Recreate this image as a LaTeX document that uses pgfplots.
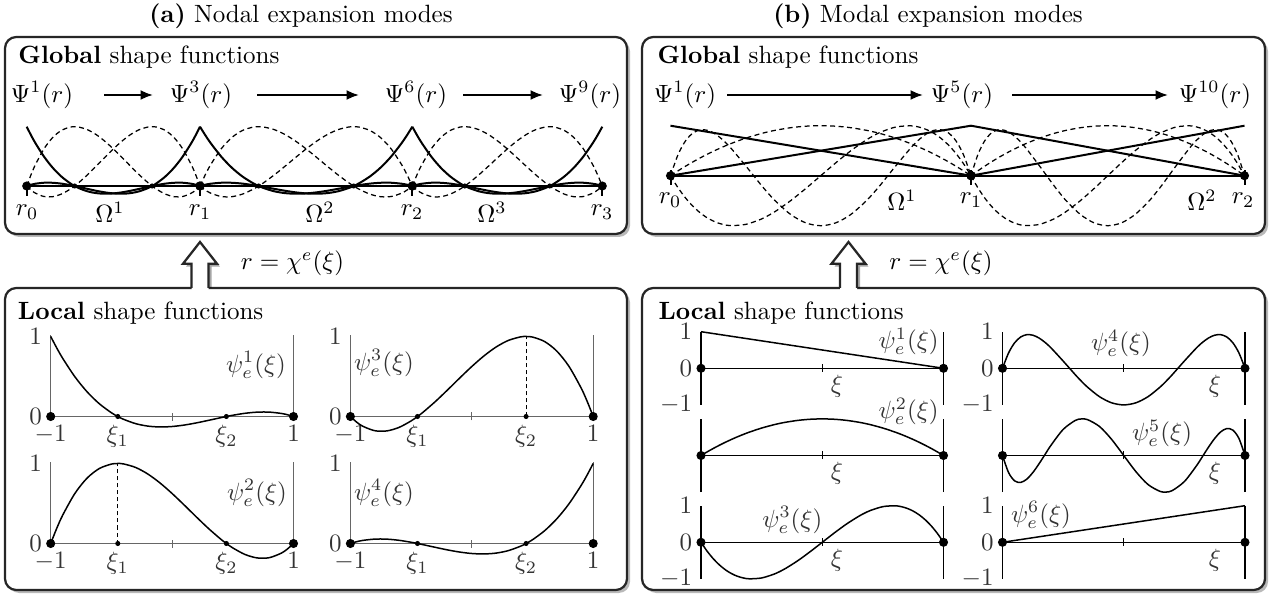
\documentclass[border=0pt]{standalone}
\usepackage{pgfplots}
\pgfplotsset{compat=1.18}
\usepackage{pgfplotstable}
\usetikzlibrary{shadows,arrows.meta}

% cubic nodal (GLL) local shape functions
\pgfplotstableread{
x p1 p2 p3 p4
-1 1 0 0 0
-0.95 0.8562 0.1904 -0.0685 0.0220
-0.9 0.7244 0.3577 -0.1202 0.0381
-0.8 0.4950 0.6275 -0.1775 0.0550
-0.7 0.3081 0.8177 -0.1802 0.0544
-0.6 0.1600 0.9367 -0.1367 0.0400
-0.5 0.0469 0.9929 -0.0553 0.0156
-0.4472 0 1 0 0
-0.4 -0.0350 0.9946 0.0554 -0.0150
-0.3 -0.0894 0.9503 0.1872 -0.0481
-0.2 -0.1200 0.8684 0.3317 -0.0800
-0.1 -0.1306 0.7571 0.4804 -0.1069
0 -0.1250 0.6250 0.6250 -0.1250
0.1 -0.1069 0.4804 0.7571 -0.1306
0.2 -0.0800 0.3317 0.8684 -0.1200
0.3 -0.0481 0.1872 0.9503 -0.0894
0.4 -0.0150 0.0554 0.9946 -0.0350
0.4472 0 0 1 0
0.5 0.0156 -0.0553 0.9929 0.0469
0.6 0.0400 -0.1367 0.9367 0.1600
0.7 0.0544 -0.1802 0.8177 0.3081
0.8 0.0550 -0.1775 0.6275 0.4950
0.9 0.0381 -0.1202 0.3577 0.7244
0.95 0.0220 -0.0685 0.1904 0.8562
1 0 0 0 1
}\nodal

% modal local shape functions (interior modes)
\pgfplotstableread{
x q2 q3 q4 q5
-1 0 0 0 0
-0.95 0.0975 -0.2406 0.4197 -0.4662
-0.9 0.19 -0.4443 0.6968 -0.6928
-0.85 0.2775 -0.6128 0.8559 -0.7364
-0.8 0.36 -0.7483 0.9187 -0.6468
-0.75 0.4375 -0.8525 0.9045 -0.4668
-0.7 0.51 -0.9275 0.8301 -0.2329
-0.65 0.5775 -0.9753 0.7103 0.0242
-0.6 0.64 -0.9977 0.5581 0.2797
-0.5 0.75 -0.9743 0.1992 0.7113
-0.4 0.84 -0.8730 -0.1747 0.9585
-0.35 0.8775 -0.7980 -0.3504 0.9985
-0.3 0.91 -0.7093 -0.5118 0.9818
-0.2 0.96 -0.4988 -0.7757 0.7925
-0.1 0.99 -0.2572 -0.9429 0.4402
0 1 0 -1 0
0.1 0.99 0.2572 -0.9429 -0.4402
0.2 0.96 0.4988 -0.7757 -0.7925
0.3 0.91 0.7093 -0.5118 -0.9818
0.35 0.8775 0.7980 -0.3504 -0.9985
0.4 0.84 0.8730 -0.1747 -0.9585
0.5 0.75 0.9743 0.1992 -0.7113
0.6 0.64 0.9977 0.5581 -0.2797
0.65 0.5775 0.9753 0.7103 -0.0242
0.7 0.51 0.9275 0.8301 0.2329
0.75 0.4375 0.8525 0.9045 0.4668
0.8 0.36 0.7483 0.9187 0.6468
0.85 0.2775 0.6128 0.8559 0.7364
0.9 0.19 0.4443 0.6968 0.6928
0.95 0.0975 0.2406 0.4197 0.4662
1 0 0 0 0
}\modal

\pgfplotsset{
  gsolid/.style={black, line width=0.8pt, smooth},
  gdash/.style={black, line width=0.5pt, dash pattern=on 2pt off 1.4pt, smooth},
  lcurve/.style={black, line width=0.6pt, smooth},
  bigdot/.style={only marks, mark=*, mark size=1.6pt, black},
  smalldot/.style={only marks, mark=*, mark size=0.8pt, black},
  gA/.style={scale only axis, hide axis, clip=false, xmin=-1, xmax=1, ymin=0, ymax=1, height=23.72pt, anchor=south west},
  gB/.style={scale only axis, hide axis, clip=false, xmin=-1, xmax=1, ymin=0, ymax=1, height=20pt, anchor=south west},
  locA/.style={scale only axis, clip=false, anchor=south west, width=97.12pt, height=32.64pt,
    xmin=-1, xmax=1, ymin=0, ymax=1.02, axis x line*=bottom, axis y line*=box,
    xtick={-1,-0.4472,0.4472,1}, xticklabels={$-1$,$\xi_1$,$\xi_2$,$1$}, ytick={0,1},
    major tick length=0pt, axis line style={black!60, line width=0.45pt}, ticklabel style={text=black!80}},
  locB/.style={scale only axis, clip=false, anchor=south west, width=97pt, height=29.28pt,
    xmin=-1, xmax=1, ymin=-1, ymax=1, axis x line*=middle, axis y line*=box,
    xtick=\empty, ytick={-1,0,1},
    major tick length=0pt, axis line style={black, line width=0.45pt}, ticklabel style={text=black!80}},
}
\tikzset{
  frame/.style={rounded corners=4.5pt, line width=0.9pt, draw=black!85, fill=white,
    drop shadow={shadow xshift=1.2pt, shadow yshift=-1.2pt, opacity=0.55}},
  lbl/.style={text=black!80},
  arr/.style={-{Latex[length=5pt,width=4pt]}, line width=0.8pt},
}
\newcommand{\harrow}[1]{%
\begin{scope}[shift={(#1,0)}]
 \fill[black, opacity=0.35, shift={(3,3)}] (-8.5,285) -- (-8.5,263.7) -- (-17,263.7) -- (0,242) -- (17,263.7) -- (8.5,263.7) -- (8.5,285) -- cycle;
 \fill[white] (-8.5,292) -- (-8.5,263.7) -- (-17,263.7) -- (0,242) -- (17,263.7) -- (8.5,263.7) -- (8.5,292) -- cycle;
 \draw[line width=0.9pt, black!85, line join=miter] (-8.5,288) -- (-8.5,263.7) -- (-17,263.7) -- (0,242) -- (17,263.7) -- (8.5,263.7) -- (8.5,288);
\end{scope}}

\begin{document}
\begin{tikzpicture}[x=0.4pt,y=-0.4pt]
\useasboundingbox (0,0) rectangle (1275,599);

% frames
\draw[frame] (5,37) rectangle (627,234);
\draw[frame] (642,37) rectangle (1265,234);
\draw[frame] (5,288) rectangle (627,590);
\draw[frame] (642,288) rectangle (1265,590);
\harrow{200}
\harrow{848.5}

% titles
\node at (301,16.7) {\textbf{(a)} Nodal expansion modes};
\node at (928,16.7) {\textbf{(b)} Modal expansion modes};
\node[anchor=west, inner sep=0] at (18,56.7) {\textbf{Global} shape functions};
\node[anchor=west, inner sep=0] at (657,56.7) {\textbf{Global} shape functions};
\node[anchor=west, inner sep=0] at (17.5,313) {\textbf{Local} shape functions};
\node[anchor=west, inner sep=0] at (658,313) {\textbf{Local} shape functions};
\node at (292.5,263.7) {$r=\chi^e(\xi)$};
\node at (941,263.7) {$r=\chi^e(\xi)$};

% Psi rows
\node at (42,95) {$\Psi^1(r)$};
\node at (201,95) {$\Psi^3(r)$};
\node at (416,95) {$\Psi^6(r)$};
\node at (590,95) {$\Psi^9(r)$};
\draw[arr] (104,95) -- (153,95);
\draw[arr] (257,95) -- (359,95);
\draw[arr] (463,95) -- (543,95);
\node at (685,95) {$\Psi^1(r)$};
\node at (962,95) {$\Psi^5(r)$};
\node at (1215,95) {$\Psi^{10}(r)$};
\draw[arr] (727,95) -- (923,95);
\draw[arr] (1012,95) -- (1168,95);

% global (a) labels
\node at (27,212) {$r_0$};
\node at (110,212) {$\Omega^1$};
\node at (200,212) {$r_1$};
\node at (320,212) {$\Omega^2$};
\node at (412,212) {$r_2$};
\node at (492,212) {$\Omega^3$};
\node at (602,212) {$r_3$};
% global (b) labels
\node at (670,200) {$r_0$};
\node at (902,200) {$\Omega^1$};
\node at (971,200) {$r_1$};
\node at (1202,200) {$\Omega^2$};
\node at (1243,200) {$r_2$};

% ---------- Global (a): three cubic elements
\coordinate (ga1) at (26.7,186);
\coordinate (ga2) at (200,186);
\coordinate (ga3) at (412.3,186);
\begin{axis}[gA, at={(ga1)}, width=69.32pt]
 \addplot[gdash] table[x=x,y=p2]{\nodal};
 \addplot[gdash] table[x=x,y=p3]{\nodal};
 \addplot[gsolid] table[x=x,y=p1]{\nodal};
 \addplot[gsolid] table[x=x,y=p4]{\nodal};
 \addplot[black, line width=0.8pt] coordinates {(-1,0) (1,0)};
 \addplot[black, line width=0.8pt] coordinates {(-1,0.07) (-1,-0.165)};
 \addplot[bigdot] coordinates {(-1,0) (1,0)};
 \addplot[smalldot] coordinates {(-0.4472,0) (0.4472,0)};
\end{axis}
\begin{axis}[gA, at={(ga2)}, width=84.92pt]
 \addplot[gdash] table[x=x,y=p2]{\nodal};
 \addplot[gdash] table[x=x,y=p3]{\nodal};
 \addplot[gsolid] table[x=x,y=p1]{\nodal};
 \addplot[gsolid] table[x=x,y=p4]{\nodal};
 \addplot[black, line width=0.8pt] coordinates {(-1,0) (1,0)};
 \addplot[black, line width=0.8pt] coordinates {(-1,0.07) (-1,-0.165)};
 \addplot[bigdot] coordinates {(-1,0) (1,0)};
 \addplot[smalldot] coordinates {(-0.4472,0) (0.4472,0)};
\end{axis}
\begin{axis}[gA, at={(ga3)}, width=76pt]
 \addplot[gdash] table[x=x,y=p2]{\nodal};
 \addplot[gdash] table[x=x,y=p3]{\nodal};
 \addplot[gsolid] table[x=x,y=p1]{\nodal};
 \addplot[gsolid] table[x=x,y=p4]{\nodal};
 \addplot[black, line width=0.8pt] coordinates {(-1,0) (1,0)};
 \addplot[black, line width=0.8pt] coordinates {(-1,0.07) (-1,-0.165)};
 \addplot[black, line width=0.8pt] coordinates {(1,0.07) (1,-0.165)};
 \addplot[bigdot] coordinates {(-1,0) (1,0)};
 \addplot[smalldot] coordinates {(-0.4472,0) (0.4472,0)};
\end{axis}

% ---------- Global (b): two modal elements
\coordinate (gb1) at (670.5,175.7);
\coordinate (gb2) at (971,175.7);
\begin{axis}[gB, at={(gb1)}, width=120.2pt]
 \addplot[gdash] table[x=x,y=q2]{\modal};
 \addplot[gdash] table[x=x,y=q3]{\modal};
 \addplot[gdash] table[x=x,y=q4]{\modal};
 \addplot[black, line width=0.8pt] coordinates {(-1,1) (1,0)};
 \addplot[black, line width=0.8pt] coordinates {(-1,0) (1,1)};
 \addplot[black, line width=0.8pt] coordinates {(-1,0) (1,0)};
 \addplot[black, line width=0.8pt] coordinates {(-1,0.11) (-1,-0.19)};
 \addplot[bigdot] coordinates {(-1,0) (1,0)};
\end{axis}
\begin{axis}[gB, at={(gb2)}, width=109.4pt]
 \addplot[gdash] table[x=x,y=q2]{\modal};
 \addplot[gdash] table[x=x,y=q3]{\modal};
 \addplot[gdash] table[x=x,y=q4]{\modal};
 \addplot[black, line width=0.8pt] coordinates {(-1,1) (1,0)};
 \addplot[black, line width=0.8pt] coordinates {(-1,0) (1,1)};
 \addplot[black, line width=0.8pt] coordinates {(-1,0) (1,0)};
 \addplot[black, line width=0.8pt] coordinates {(-1,0.11) (-1,-0.19)};
 \addplot[black, line width=0.8pt] coordinates {(1,0.11) (1,-0.19)};
 \addplot[bigdot] coordinates {(-1,0) (1,0)};
\end{axis}

% ---------- Local (a)
\coordinate (la11) at (50.7,416.5);
\coordinate (la12) at (350.4,416.5);
\coordinate (la21) at (50.7,543.5);
\coordinate (la22) at (350.4,543.5);
\begin{axis}[locA, at={(la11)}]
 \addplot[lcurve] table[x=x,y=p1]{\nodal};
 \addplot[black!60, line width=0.45pt] coordinates {(0,-0.05) (0,0.05)};
 \addplot[smalldot] coordinates {(-0.4472,0) (0.4472,0)};
 \addplot[bigdot] coordinates {(-1,0) (1,0)};
\end{axis}
\begin{axis}[locA, at={(la12)}]
 \addplot[black, line width=0.45pt, dash pattern=on 1.6pt off 1.2pt] coordinates {(0.4472,0) (0.4472,1)};
 \addplot[lcurve] table[x=x,y=p3]{\nodal};
 \addplot[black!60, line width=0.45pt] coordinates {(0,-0.05) (0,0.05)};
 \addplot[smalldot] coordinates {(-0.4472,0) (0.4472,0)};
 \addplot[bigdot] coordinates {(-1,0) (1,0)};
\end{axis}
\begin{axis}[locA, at={(la21)}]
 \addplot[black, line width=0.45pt, dash pattern=on 1.6pt off 1.2pt] coordinates {(-0.4472,0) (-0.4472,1)};
 \addplot[lcurve] table[x=x,y=p2]{\nodal};
 \addplot[black!60, line width=0.45pt] coordinates {(0,-0.05) (0,0.05)};
 \addplot[smalldot] coordinates {(-0.4472,0) (0.4472,0)};
 \addplot[bigdot] coordinates {(-1,0) (1,0)};
\end{axis}
\begin{axis}[locA, at={(la22)}]
 \addplot[lcurve] table[x=x,y=p4]{\nodal};
 \addplot[black!60, line width=0.45pt] coordinates {(0,-0.05) (0,0.05)};
 \addplot[smalldot] coordinates {(-0.4472,0) (0.4472,0)};
 \addplot[bigdot] coordinates {(-1,0) (1,0)};
\end{axis}
\node[lbl] at (256,365) {$\psi_e^1(\xi)$};
\node[lbl] at (384,363) {$\psi_e^3(\xi)$};
\node[lbl] at (257,493) {$\psi_e^2(\xi)$};
\node[lbl] at (384,493) {$\psi_e^4(\xi)$};

% ---------- Local (b)
\coordinate (lb11) at (701,404.9);
\coordinate (lb21) at (701,492.1);
\coordinate (lb31) at (701,578.9);
\coordinate (lb12) at (1002.5,404.9);
\coordinate (lb22) at (1002.5,492.1);
\coordinate (lb32) at (1002.5,578.9);
\begin{axis}[locB, at={(lb11)}]
 \addplot[lcurve] coordinates {(-1,1) (1,0)};
 \addplot[black, line width=0.45pt] coordinates {(0,-0.1) (0,0.11)};
 \addplot[bigdot] coordinates {(-1,0) (1,0)};
\end{axis}
\begin{axis}[locB, at={(lb21)}, ytick=\empty]
 \addplot[lcurve] table[x=x,y=q2]{\modal};
 \addplot[black, line width=0.45pt] coordinates {(0,-0.1) (0,0.11)};
 \addplot[bigdot] coordinates {(-1,0) (1,0)};
\end{axis}
\begin{axis}[locB, at={(lb31)}]
 \addplot[lcurve] table[x=x,y=q3]{\modal};
 \addplot[black, line width=0.45pt] coordinates {(0,-0.1) (0,0.11)};
 \addplot[bigdot] coordinates {(-1,0) (1,0)};
\end{axis}
\begin{axis}[locB, at={(lb12)}]
 \addplot[lcurve] table[x=x,y=q4]{\modal};
 \addplot[black, line width=0.45pt] coordinates {(0,-0.1) (0,0.11)};
 \addplot[bigdot] coordinates {(-1,0) (1,0)};
\end{axis}
\begin{axis}[locB, at={(lb22)}, ytick=\empty]
 \addplot[lcurve] table[x=x,y=q5]{\modal};
 \addplot[black, line width=0.45pt] coordinates {(0,-0.1) (0,0.11)};
 \addplot[bigdot] coordinates {(-1,0) (1,0)};
\end{axis}
\begin{axis}[locB, at={(lb32)}]
 \addplot[lcurve] coordinates {(-1,0) (1,1)};
 \addplot[black, line width=0.45pt] coordinates {(0,-0.1) (0,0.11)};
 \addplot[bigdot] coordinates {(-1,0) (1,0)};
\end{axis}
\node[lbl] at (908.6,341.7) {$\psi_e^1(\xi)$};
\node[lbl] at (908.6,411.7) {$\psi_e^2(\xi)$};
\node[lbl] at (792.3,520) {$\psi_e^3(\xi)$};
\node[lbl] at (1121,343.3) {$\psi_e^4(\xi)$};
\node[lbl] at (1162,433.3) {$\psi_e^5(\xi)$};
\node[lbl] at (1041,515) {$\psi_e^6(\xi)$};
\node[lbl] at (837,386) {$\xi$};
\node[lbl] at (837,473.5) {$\xi$};
\node[lbl] at (837,560) {$\xi$};
\node[lbl] at (1215,386) {$\xi$};
\node[lbl] at (1215,473.5) {$\xi$};
\node[lbl] at (1215,560) {$\xi$};
\end{tikzpicture}
\end{document}
